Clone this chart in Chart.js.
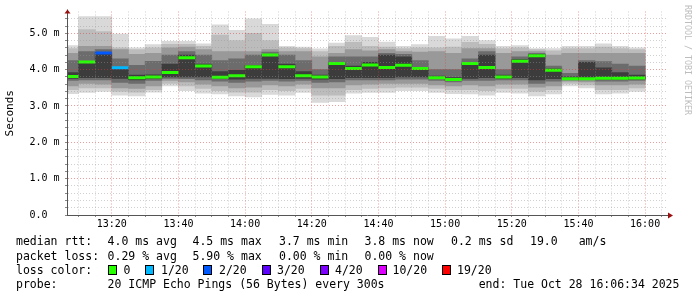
<!DOCTYPE html>
<html><head><meta charset="utf-8">
<script src="https://cdn.jsdelivr.net/npm/chart.js@4/dist/chart.umd.min.js"></script>
<style>
html,body{margin:0;padding:0;background:#fff;}
#wrap{position:relative;width:697px;height:297px;overflow:hidden;background:#fff;}
canvas{position:absolute;left:0;top:0;}
.t{position:absolute;font-family:'DejaVu Sans Mono',monospace;font-size:11.5px;line-height:14px;white-space:pre;color:#000;}
.box{position:absolute;width:7px;height:8px;border:1px solid #000;}
#wm{position:absolute;left:684px;top:5px;writing-mode:vertical-rl;font-family:'DejaVu Sans Mono',monospace;font-size:8.3px;line-height:8px;color:#bdbdbd;white-space:pre;}
</style></head>
<body>
<div id="wrap">
<canvas id="c" width="697" height="297"></canvas>
<div id="legend"></div>
<div id="wm">RRDTOOL / TOBI OETIKER</div>
</div>
<script>
// ---- data ----
const slotEnd = ['13:10','13:15','13:20','13:25','13:30','13:35','13:40','13:45','13:50','13:55',
  '14:00','14:05','14:10','14:15','14:20','14:25','14:30','14:35','14:40','14:45',
  '14:50','14:55','15:00','15:05','15:10','15:15','15:20','15:25','15:30','15:35',
  '15:40','15:45','15:50','15:55','16:00'];
const stepMinutes = 5;
const graphEnd = '16:06:34';
const spanMinutes = 180;

const median = [3.81,4.21,4.46,4.05,3.78,3.80,3.92,4.33,4.10,3.79,3.83,4.08,4.40,4.08,3.83,3.80,4.17,4.03,4.13,4.06,
  4.12,4.03,3.78,3.73,4.17,4.06,3.80,4.23,4.38,3.98,3.75,3.75,3.76,3.76,3.77];
const lossCount = [0,0,2,1,0,0,0,0,0,0,0,0,0,0,0,0,0,0,0,0,0,0,0,0,0,0,0,0,0,0,0,0,0,0,0];

const smoke1Low  = [3.34,3.37,3.40,3.30,3.28,3.38,3.55,3.42,3.35,3.33,3.28,3.25,3.32,3.30,3.37,3.10,3.12,3.35,3.37,3.37,3.42,3.42,3.37,3.34,3.33,3.30,3.37,3.35,3.28,3.33,3.55,3.50,3.33,3.35,3.40];
const smoke1High = [4.66,5.46,5.46,4.98,4.60,4.69,4.78,4.78,4.71,5.23,5.08,5.40,5.25,4.64,4.62,4.57,4.73,4.94,4.89,4.76,4.64,4.69,4.92,4.85,4.92,4.80,4.64,4.66,4.58,4.58,4.64,4.64,4.71,4.64,4.60];
const smoke2Low  = [3.45,3.50,3.50,3.40,3.38,3.45,3.62,3.55,3.48,3.42,3.38,3.38,3.45,3.42,3.48,3.30,3.30,3.45,3.48,3.50,3.52,3.52,3.48,3.45,3.45,3.42,3.48,3.48,3.40,3.45,3.62,3.58,3.45,3.45,3.50];
const smoke2High = [4.58,5.10,5.05,4.60,4.55,4.60,4.70,4.70,4.64,4.95,4.80,5.00,4.80,4.60,4.58,4.50,4.64,4.75,4.64,4.62,4.58,4.60,4.60,4.62,4.75,4.70,4.58,4.60,4.55,4.52,4.58,4.58,4.62,4.58,4.55];
const smoke3Low  = [3.55,3.62,3.60,3.50,3.48,3.55,3.70,3.66,3.60,3.55,3.50,3.52,3.58,3.55,3.60,3.50,3.50,3.58,3.60,3.62,3.62,3.62,3.58,3.55,3.58,3.55,3.60,3.60,3.52,3.55,3.68,3.66,3.58,3.58,3.60];
const smoke3High = [4.45,4.64,4.64,4.55,4.42,4.45,4.60,4.62,4.55,4.50,4.50,4.50,4.55,4.50,4.50,4.35,4.45,4.55,4.52,4.55,4.50,4.48,4.50,4.45,4.58,4.58,4.45,4.50,4.50,4.40,4.45,4.45,4.45,4.45,4.45];
const smoke4Low  = [3.70,3.72,3.72,3.65,3.62,3.70,3.76,3.75,3.72,3.68,3.65,3.68,3.70,3.68,3.70,3.65,3.66,3.72,3.72,3.72,3.74,3.74,3.70,3.66,3.70,3.70,3.72,3.72,3.62,3.68,3.72,3.72,3.68,3.68,3.70];
const smoke4High = [4.25,4.50,4.55,4.30,4.12,4.23,4.40,4.50,4.40,4.25,4.30,4.40,4.48,4.40,4.25,4.00,4.35,4.35,4.35,4.45,4.42,4.25,4.00,4.00,4.30,4.50,4.00,4.35,4.45,4.10,3.90,4.25,4.22,4.15,4.10];
const smoke5Low  = [3.76,3.78,3.78,3.76,3.72,3.76,3.80,3.80,3.80,3.76,3.74,3.76,3.76,3.75,3.76,3.74,3.75,3.78,3.78,3.78,3.80,3.80,3.75,3.72,3.76,3.78,3.76,3.78,3.72,3.75,3.74,3.74,3.74,3.74,3.74];
const smoke5High = [3.92,4.23,4.46,4.05,3.85,3.86,4.15,4.40,4.15,3.95,3.98,4.12,4.42,4.15,3.95,3.85,4.20,4.10,4.20,4.40,4.35,4.05,3.82,3.78,4.20,4.40,3.85,4.28,4.42,4.02,3.80,4.20,4.05,3.92,3.85];

const xTickLabels = ['13:20','13:40','14:00','14:20','14:40','15:00','15:20','15:40','16:00'];
const yTickLabels = ['0.0','1.0 m','2.0 m','3.0 m','4.0 m','5.0 m'];
const lossLegend = ['0','1/20','2/20','3/20','4/20','10/20','19/20'];
const lossLegendCount = [0,1,2,3,4,10,19];
const lossColors = ['#26ff00','#00b8ff','#0059ff','#5e00ff','#7e00ff','#dd00ff','#ff0000'];

// ---- helpers ----
const toMin = s => { const p = s.split(':').map(Number); return p[0]*60 + p[1] + (p[2]||0)/60; };
const colorForLoss = n => { let c = lossColors[0]; lossLegendCount.forEach((v,i)=>{ if (n >= v) c = lossColors[i]; }); return c; };
const xMax = toMin(graphEnd), xMin = xMax - spanMinutes;
const slotMid = slotEnd.map(s => toMin(s) - stepMinutes/2);
const majorTimes = xTickLabels.map(toMin);
const xGrid = []; for (let t = Math.ceil(xMin/stepMinutes)*stepMinutes; t <= xMax; t += stepMinutes) xGrid.push(t);
const yGrid = []; for (let k = 0; k <= 27; k++) yGrid.push(k/5);

const bands = [
  [smoke1Low, smoke1High, '#d9d9d9'],
  [smoke2Low, smoke2High, '#bcbcbc'],
  [smoke3Low, smoke3High, '#999999'],
  [smoke4Low, smoke4High, '#6c6c6c'],
  [smoke5Low, smoke5High, '#3c3c3c']
];
const datasets = bands.map((b, k) => ({
  type: 'bar',
  data: slotMid.map((x, i) => ({x, y: [b[0][i], b[1][i]]})),
  backgroundColor: b[2], borderWidth: 0, grouped: false,
  barPercentage: 1, categoryPercentage: 1, order: 10 - k, clip: 0
}));
datasets.push({
  type: 'line', showLine: false, order: 0, clip: 0,
  data: slotMid.map((x, i) => ({x, y: median[i]})),
  pointStyle: 'line',
  pointRadius: ctx => { const s = ctx.chart.scales.x; return (s.getPixelForValue(xMin + stepMinutes) - s.getPixelForValue(xMin)) / 2; },
  pointBorderWidth: 3,
  pointBorderColor: lossCount.map(colorForLoss),
  pointBackgroundColor: lossCount.map(colorForLoss)
});

const mono = 'DejaVu Sans Mono';
const arrows = {
  id: 'arrows',
  afterDraw(chart) {
    const {ctx, chartArea: a} = chart;
    const lx = Math.round(a.left) + 0.5, by = Math.round(a.bottom) + 0.5;
    ctx.save();
    ctx.strokeStyle = '#555'; ctx.lineWidth = 1;
    ctx.beginPath(); ctx.moveTo(lx, a.top); ctx.lineTo(lx, a.top - 2); ctx.moveTo(a.right, by); ctx.lineTo(a.right + 2, by); ctx.stroke();
    ctx.fillStyle = '#9a1010';
    ctx.beginPath(); ctx.moveTo(lx - 3, a.top + 2); ctx.lineTo(lx + 3, a.top + 2); ctx.lineTo(lx, a.top - 2); ctx.closePath(); ctx.fill();
    ctx.beginPath(); ctx.moveTo(a.right + 1, by - 3); ctx.lineTo(a.right + 1, by + 3); ctx.lineTo(a.right + 6, by); ctx.closePath(); ctx.fill();
    ctx.restore();
  }
};

new Chart(document.getElementById('c'), {
  type: 'bar',
  data: { datasets },
  plugins: [arrows],
  options: {
    responsive: false, animation: false, devicePixelRatio: 1,
    layout: { padding: { left: 0, right: 30, top: 10, bottom: 0 } },
    plugins: { legend: { display: false }, tooltip: { enabled: false } },
    scales: {
      x: {
        type: 'linear', min: xMin, max: xMax, offset: false,
        afterBuildTicks: s => { s.ticks = xGrid.map(v => ({value: v})); },
        afterFit: s => { s.height = 82; },
        ticks: {
          autoSkip: false, maxRotation: 0, padding: 1, color: '#000',
          font: { family: mono, size: 10 },
          callback: v => { const i = majorTimes.findIndex(t => Math.abs(t - v) < 0.01); return i >= 0 ? xTickLabels[i] : ''; }
        },
        grid: {
          offset: false, z: 1, lineWidth: 1, drawTicks: true, tickLength: 2, tickColor: '#888',
          color: ctx => majorTimes.some(t => Math.abs(t - ctx.tick.value) < 0.01) ? 'rgba(215,60,60,0.5)' : 'rgba(150,150,150,0.45)'
        },
        border: { color: '#555', width: 1, dash: [1, 2], z: 2 }
      },
      y: {
        type: 'linear', min: 0, max: 5.6,
        afterBuildTicks: s => { s.ticks = yGrid.map(v => ({value: v})); },
        afterFit: s => { s.width = 67; },
        ticks: {
          autoSkip: false, padding: 5.5, color: '#000',
          font: { family: mono, size: 10 },
          callback: v => { const n = Math.round(v * 5); return n % 5 === 0 ? yTickLabels[n / 5].padEnd(5, ' ') : ''; }
        },
        grid: {
          z: 1, lineWidth: 1, drawTicks: true, tickLength: 2, tickColor: '#888',
          color: ctx => (Math.round(ctx.tick.value * 5) % 5 === 0) ? 'rgba(215,60,60,0.5)' : 'rgba(150,150,150,0.45)'
        },
        border: { color: '#555', width: 1, dash: [1, 2], z: 2 },
        title: { display: true, text: 'Seconds', color: '#000', font: { family: mono, size: 11 }, padding: { top: 4, bottom: 0 } }
      }
    }
  }
});

// ---- text legend below the chart ----
const legend = document.getElementById('legend');
const put = (txt, x, y) => { const d = document.createElement('div'); d.className = 't'; d.textContent = txt; d.style.left = x + 'px'; d.style.top = y + 'px'; legend.appendChild(d); };
const row1 = 234, row2 = 248.5, row3 = 262.5, row4 = 277;
put('median rtt:', 16, row1);
[['4.0 ms avg',107.6],['4.5 ms max',192.5],['3.7 ms min',279],['3.8 ms now',364.5],['0.2 ms sd',451],['19.0',530],['am/s',578.7]].forEach(p => put(p[0], p[1], row1));
put('packet loss:', 16, row2);
[['0.29 % avg',107.6],['5.90 % max',192.5],['0.00 % min',279],['0.00 % now',364.5]].forEach(p => put(p[0], p[1], row2));
put('loss color:', 16, row3);
const boxX = [108, 145.4, 203, 262, 320, 378, 442];
const labX = [123.6, 161, 219, 277, 335, 392.5, 457];
lossLegend.forEach((l, i) => {
  const b = document.createElement('div'); b.className = 'box'; b.style.left = boxX[i] + 'px'; b.style.top = (row3 + 2) + 'px'; b.style.background = lossColors[i]; legend.appendChild(b);
  put(l, labX[i], row3);
});
put('probe:', 16, row4);
put('20 ICMP Echo Pings (56 Bytes) every 300s', 107.6, row4);
put('end: Tue Oct 28 16:06:34 2025', 478.7, row4);
</script>
</body></html>
